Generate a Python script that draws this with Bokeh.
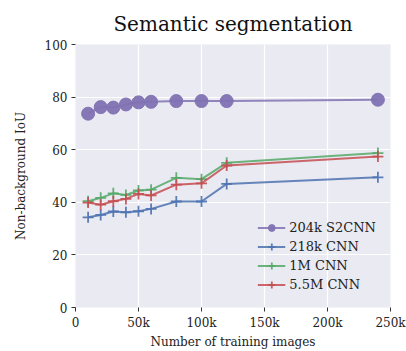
from bokeh.plotting import figure
from bokeh.models import Range1d, FixedTicker, Legend, LegendItem
from bokeh.embed import file_html
from bokeh.resources import INLINE

x_vals = [10000, 20000, 30000, 40000, 50000, 60000, 80000, 100000, 120000, 240000]
s2cnn_204k = [73.7, 76.2, 76.0, 77.2, 78.0, 78.2, 78.5, 78.5, 78.5, 79.0]
cnn_218k = [34.3, 35.2, 36.5, 36.2, 36.6, 37.5, 40.3, 40.3, 47.0, 49.5]
cnn_1m = [40.4, 41.7, 43.4, 42.8, 44.5, 44.8, 49.3, 48.8, 55.0, 58.7]
cnn_5_5m = [39.9, 39.1, 40.4, 41.3, 43.2, 42.6, 46.7, 47.2, 54.0, 57.4]

x_ticks = [0, 50000, 100000, 150000, 200000, 250000]
x_tick_labels = ["0", "50k", "100k", "150k", "200k", "250k"]
y_ticks = [0, 20, 40, 60, 80, 100]

FONT = "DejaVu Serif"

p = figure(width=406, height=351, output_backend="svg", toolbar_location=None,
           x_range=Range1d(0, 250000), y_range=Range1d(0, 100),
           min_border_left=75, min_border_right=16, min_border_top=44, min_border_bottom=44)

p.title.text = "Semantic segmentation"
p.title.text_font = FONT
p.title.text_font_size = "20px"
p.title.text_font_style = "normal"
p.title.align = "center"
p.title.text_color = "#111111"
p.title.standoff = 17

p.background_fill_color = "#EAEAF2"
p.border_fill_color = "white"
p.outline_line_color = None
p.xgrid.grid_line_color = "white"
p.ygrid.grid_line_color = "white"
p.xgrid.grid_line_width = 1.2
p.ygrid.grid_line_width = 1.2

p.xaxis.ticker = FixedTicker(ticks=x_ticks)
p.xaxis.major_label_overrides = {t: l for t, l in zip(x_ticks, x_tick_labels)}
p.yaxis.ticker = FixedTicker(ticks=y_ticks)
for ax in (p.xaxis, p.yaxis):
    ax.axis_line_color = None
    ax.minor_tick_line_color = None
    ax.major_tick_line_color = "#333333"
    ax.major_tick_out = 4
    ax.major_tick_in = 0
    ax.major_label_text_font = FONT
    ax.major_label_text_font_size = "12px"
    ax.major_label_text_color = "#222222"
    ax.major_label_standoff = 4
    ax.axis_label_text_font = FONT
    ax.axis_label_text_font_size = "12px"
    ax.axis_label_text_font_style = "normal"
    ax.axis_label_text_color = "#222222"
p.xaxis.axis_label = "Number of training images"
p.yaxis.axis_label = "Non-background IoU"
p.xaxis.axis_label_standoff = 2
p.yaxis.axis_label_standoff = 14

series = [
    ("204k S2CNN", s2cnn_204k, "#8172B2", "circle", 13),
    ("218k CNN", cnn_218k, "#4C72B0", "cross", 11),
    ("1M CNN", cnn_1m, "#55A868", "cross", 11),
    ("5.5M CNN", cnn_5_5m, "#C44E52", "cross", 11),
]
items = []
for name, ys, col, marker, size in series:
    l = p.line(x_vals, ys, line_color=col, line_width=2, line_alpha=0.85)
    if marker == "circle":
        s = p.scatter(x_vals, ys, marker="circle", size=size, fill_color=col,
                      line_color=col, fill_alpha=0.95, line_alpha=0.95)
    else:
        s = p.scatter(x_vals, ys, marker="cross", size=size, line_color=col,
                      line_width=1.8, line_alpha=0.9)
    items.append(LegendItem(label=name, renderers=[l, s]))

legend = Legend(items=items, location="bottom_right")
legend.background_fill_alpha = 0
legend.border_line_color = None
legend.label_text_font = FONT
legend.label_text_font_size = "13px"
legend.label_text_color = "#222222"
legend.glyph_width = 28
legend.glyph_height = 17
legend.label_standoff = 4
legend.spacing = 2
legend.margin = 14
legend.padding = 2
p.add_layout(legend, "center")

open("out.html", "w").write(file_html(p, INLINE))
